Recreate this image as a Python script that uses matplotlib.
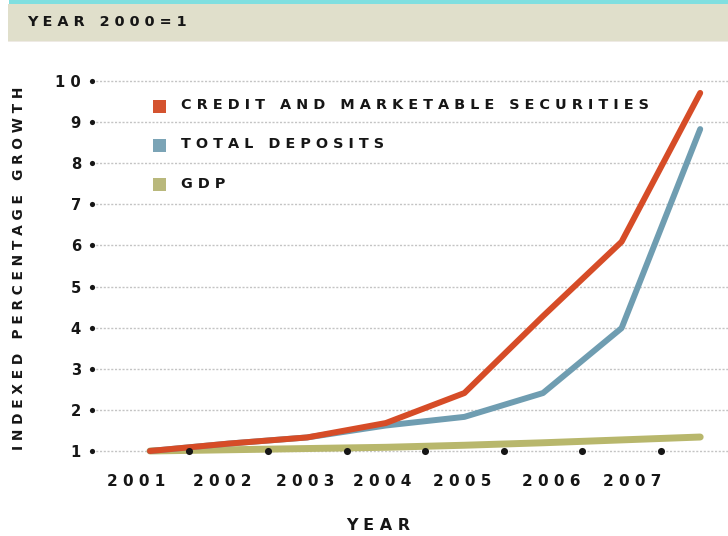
import numpy as np
import matplotlib
matplotlib.use("Agg")
import matplotlib.pyplot as plt
from matplotlib.patches import Rectangle

# ---- data -------------------------------------------------------------
periods = np.arange(8)
credit = [1.00, 1.18, 1.33, 1.68, 2.41, 4.28, 6.09, 9.71]
deposits = [1.00, 1.18, 1.33, 1.62, 1.83, 2.41, 3.99, 8.83]
gdp = [1.00, 1.03, 1.06, 1.09, 1.14, 1.20, 1.27, 1.34]

year_labels = ["2001", "2002", "2003", "2004", "2005", "2006", "2007"]
y_ticks = [1, 2, 3, 4, 5, 6, 7, 8, 9, 10]
series_names = ["CREDIT AND MARKETABLE SECURITIES", "TOTAL DEPOSITS", "GDP"]

# ---- style ------------------------------------------------------------
RED = "#d64c27"
BLUE = "#6f9db1"
OLIVE = "#b8b76c"
INK = "#161616"
FONT = "DejaVu Sans"


def spaced(s):
    """Letter-spaced caps, like the original signage-style typeface."""
    return " ".join(s)


W, H = 728, 536
fig = plt.figure(figsize=(W / 100, H / 100), dpi=100)
fig.patch.set_facecolor("white")

# header band
fig.patches.append(Rectangle((9 / W, 1 - 5 / H), 1, 5 / H, transform=fig.transFigure,
                             facecolor="#80dfe0", edgecolor="none", zorder=0))
fig.patches.append(Rectangle((8 / W, 1 - 41 / H), 1, 37 / H, transform=fig.transFigure,
                             facecolor="#e0dfcb", edgecolor="none", zorder=1))
fig.patches.append(Rectangle((8 / W, 1 - 42 / H), 1, 1.5 / H, transform=fig.transFigure,
                             facecolor="#eeeae4", edgecolor="none", zorder=1))
fig.text(27 / W, 1 - 22 / H, spaced("YEAR 2000=1"), family=FONT, weight="bold",
         fontsize=10.4, color=INK, ha="left", va="center")

# plot area in pixels: x 92..728, y 70..470
ax_l, ax_r, ax_t, ax_b = 92, 728, 70, 470
ax = fig.add_axes([ax_l / W, 1 - ax_b / H, (ax_r - ax_l) / W, (ax_b - ax_t) / H])
ax.set_facecolor("none")

px_per_x = 78.6
px_per_y = (451 - 81) / 9.0
ax.set_xlim(-(150 - ax_l) / px_per_x, (ax_r - 150) / px_per_x)
ax.set_ylim(1 - (ax_b - 451) / px_per_y, 10 + (81 - ax_t) / px_per_y)

for s in ax.spines.values():
    s.set_visible(False)

# dotted horizontal grid
for v in y_ticks:
    ax.axhline(v, color="#c4c4c4", lw=1.0, ls=(0, (1.5, 1.2)), zorder=1)

# y-axis dots and labels
ax.set_yticks(y_ticks)
ax.set_yticklabels([spaced(str(v)) for v in y_ticks], family=FONT, weight="bold",
                   fontsize=10.6, color=INK)
ax.tick_params(axis="y", length=0, pad=8.0)
ax.scatter([ax.get_xlim()[0]] * len(y_ticks), y_ticks, s=14, color=INK,
           zorder=6, clip_on=False, linewidths=0)

# x tick labels
year_pos = [-0.18, 0.92, 1.97, 2.96, 3.97, 5.10, 6.14]
ax.set_xticks(year_pos)
ax.set_xticklabels([spaced(y) for y in year_labels], family=FONT, weight="bold",
                   fontsize=11.0, color=INK)
ax.tick_params(axis="x", length=0, pad=3.0)

# series
ax.plot(periods, gdp, color=OLIVE, lw=5.0, solid_capstyle="round",
        solid_joinstyle="round", zorder=3)
ax.plot(periods, deposits, color=BLUE, lw=4.3, solid_capstyle="round",
        solid_joinstyle="round", zorder=4)
ax.plot(periods, credit, color=RED, lw=4.3, solid_capstyle="round",
        solid_joinstyle="round", zorder=5)

# baseline dots between year positions
ax.scatter(np.arange(7) + 0.5, [1] * 7, s=26, color=INK, zorder=7, linewidths=0)


# legend drawn in the upper-left of the plot
def ax_x(px):
    return (px - ax_l) / (ax_r - ax_l)


def ax_y(py):
    return (ax_b - py) / (ax_b - ax_t)


legend_colors = ["#d4532f", "#7ba4b6", "#b9b87c"]
square_centres = [106, 145.5, 184]
text_baselines = [109.0, 148.0, 188.0]
for name, col, sc, tb in zip(series_names, legend_colors, square_centres, text_baselines):
    ax.add_patch(Rectangle((ax_x(152.5), ax_y(sc + 6.5)), 13.5 / (ax_r - ax_l), 13 / (ax_b - ax_t),
                           transform=ax.transAxes, facecolor=col, edgecolor="none", zorder=8))
    ax.text(ax_x(181), ax_y(tb), spaced(name), transform=ax.transAxes, family=FONT,
            weight="bold", fontsize=10.4, color=INK, ha="left", va="baseline", zorder=8)

# axis titles
fig.text(19 / W, 1 - 268 / H, spaced("INDEXED PERCENTAGE GROWTH"), family=FONT,
         weight="bold", fontsize=9.9, color=INK, rotation=90, ha="center", va="center")
fig.text(378 / W, 1 - 526 / H, spaced("YEAR"), family=FONT, weight="bold",
         fontsize=11.5, color=INK, ha="center", va="center")

fig.savefig("out.png", dpi=100)
